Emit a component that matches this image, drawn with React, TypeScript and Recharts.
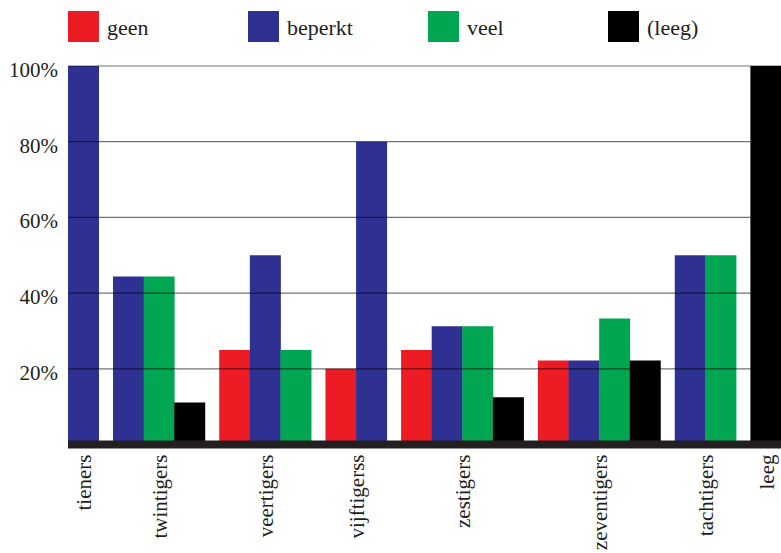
import React from "react";
import { Bar, BarChart, Cell, ReferenceLine, XAxis, YAxis } from "recharts";

const categories = ["tieners", "twintigers", "veertigers", "vijftigerss", "zestigers", "zeventigers", "tachtigers", "leeg"];
const seriesNames = ["geen", "beperkt", "veel", "(leeg)"];
const seriesColors = ["#ed1c24", "#2e3192", "#00a651", "#000000"];

const geen = [0, 0, 25, 20, 25, 22.2, 0, 0];
const beperkt = [100, 44.4, 50, 80, 31.25, 22.2, 50, 0];
const veel = [0, 44.4, 25, 0, 31.25, 33.3, 50, 0];
const leeg = [0, 11.1, 0, 0, 12.5, 22.2, 0, 100];

const yTicks = [20, 40, 60, 80, 100];

const series = [geen, beperkt, veel, leeg];
const GAP = 0.47; // gap between groups, in bar widths

// empty values are left out, so the bars of a group sit side by side
const rows: { pos: number; value: number; color: string }[] = [];
const groupCenters: number[] = [];
let k = 0;
categories.forEach((cat, g) => {
  const first = k;
  series.forEach((vals, s) => {
    if (vals[g] > 0) {
      rows.push({ pos: k + g * GAP, value: vals[g], color: seriesColors[s] });
      k++;
    }
  });
  groupCenters.push((first + k - 1) / 2 + g * GAP);
});
const maxPos = k - 1 + (categories.length - 1) * GAP;

const font = "Liberation Serif";

const CatTick = (props: any) => {
  const { x, y, index } = props;
  return (
    <text
      transform={`translate(${x + 8}, ${y + 2}) rotate(-90)`}
      textAnchor="end"
      fontFamily={font}
      fontSize={21}
      fill="#231f20"
    >
      {categories[index]}
    </text>
  );
};

const PctTick = (props: any) => {
  const { y, payload } = props;
  return (
    <text x={58} y={y + 11} textAnchor="end" fontFamily={font} fontSize={21} fill="#231f20">
      {payload.value}%
    </text>
  );
};

export default function App() {
  return (
    <div style={{ position: "absolute", left: 0, top: 0, width: 781, height: 553, background: "#fff" }}>
      <div style={{ position: "absolute", left: 68, top: 11, display: "flex", fontFamily: font, fontSize: 22, color: "#231f20" }}>
        {seriesNames.map((name, i) => (
          <div key={name} style={{ width: 180, display: "flex", alignItems: "center", height: 31 }}>
            <div style={{ width: 31, height: 31, background: seriesColors[i], marginRight: 8 }} />
            <span style={{ paddingTop: 2 }}>{name}</span>
          </div>
        ))}
      </div>
      <BarChart
        width={781}
        height={553}
        data={rows}
        barCategoryGap={0}
        margin={{ top: 66, right: 0, bottom: 0, left: 0 }}
        style={{ position: "absolute", left: 0, top: 0 }}
      >
        <XAxis
          type="number"
          dataKey="pos"
          domain={[-0.5, maxPos + 0.5]}
          ticks={groupCenters}
          interval={0}
          tick={<CatTick />}
          tickLine={false}
          axisLine={{ stroke: "#231f20", strokeWidth: 8 }}
          height={108.5}
        />
        <YAxis
          type="number"
          domain={[0, 100]}
          ticks={yTicks}
          tick={<PctTick />}
          tickLine={false}
          axisLine={false}
          width={68}
        />
        <Bar dataKey="value" isAnimationActive={false}>
          {rows.map((r, i) => (
            <Cell key={i} fill={r.color} />
          ))}
        </Bar>
        {yTicks.map((t) => (
          <ReferenceLine key={t} y={t} stroke="#000" strokeOpacity={0.55} strokeWidth={1.2} />
        ))}
      </BarChart>
    </div>
  );
}
